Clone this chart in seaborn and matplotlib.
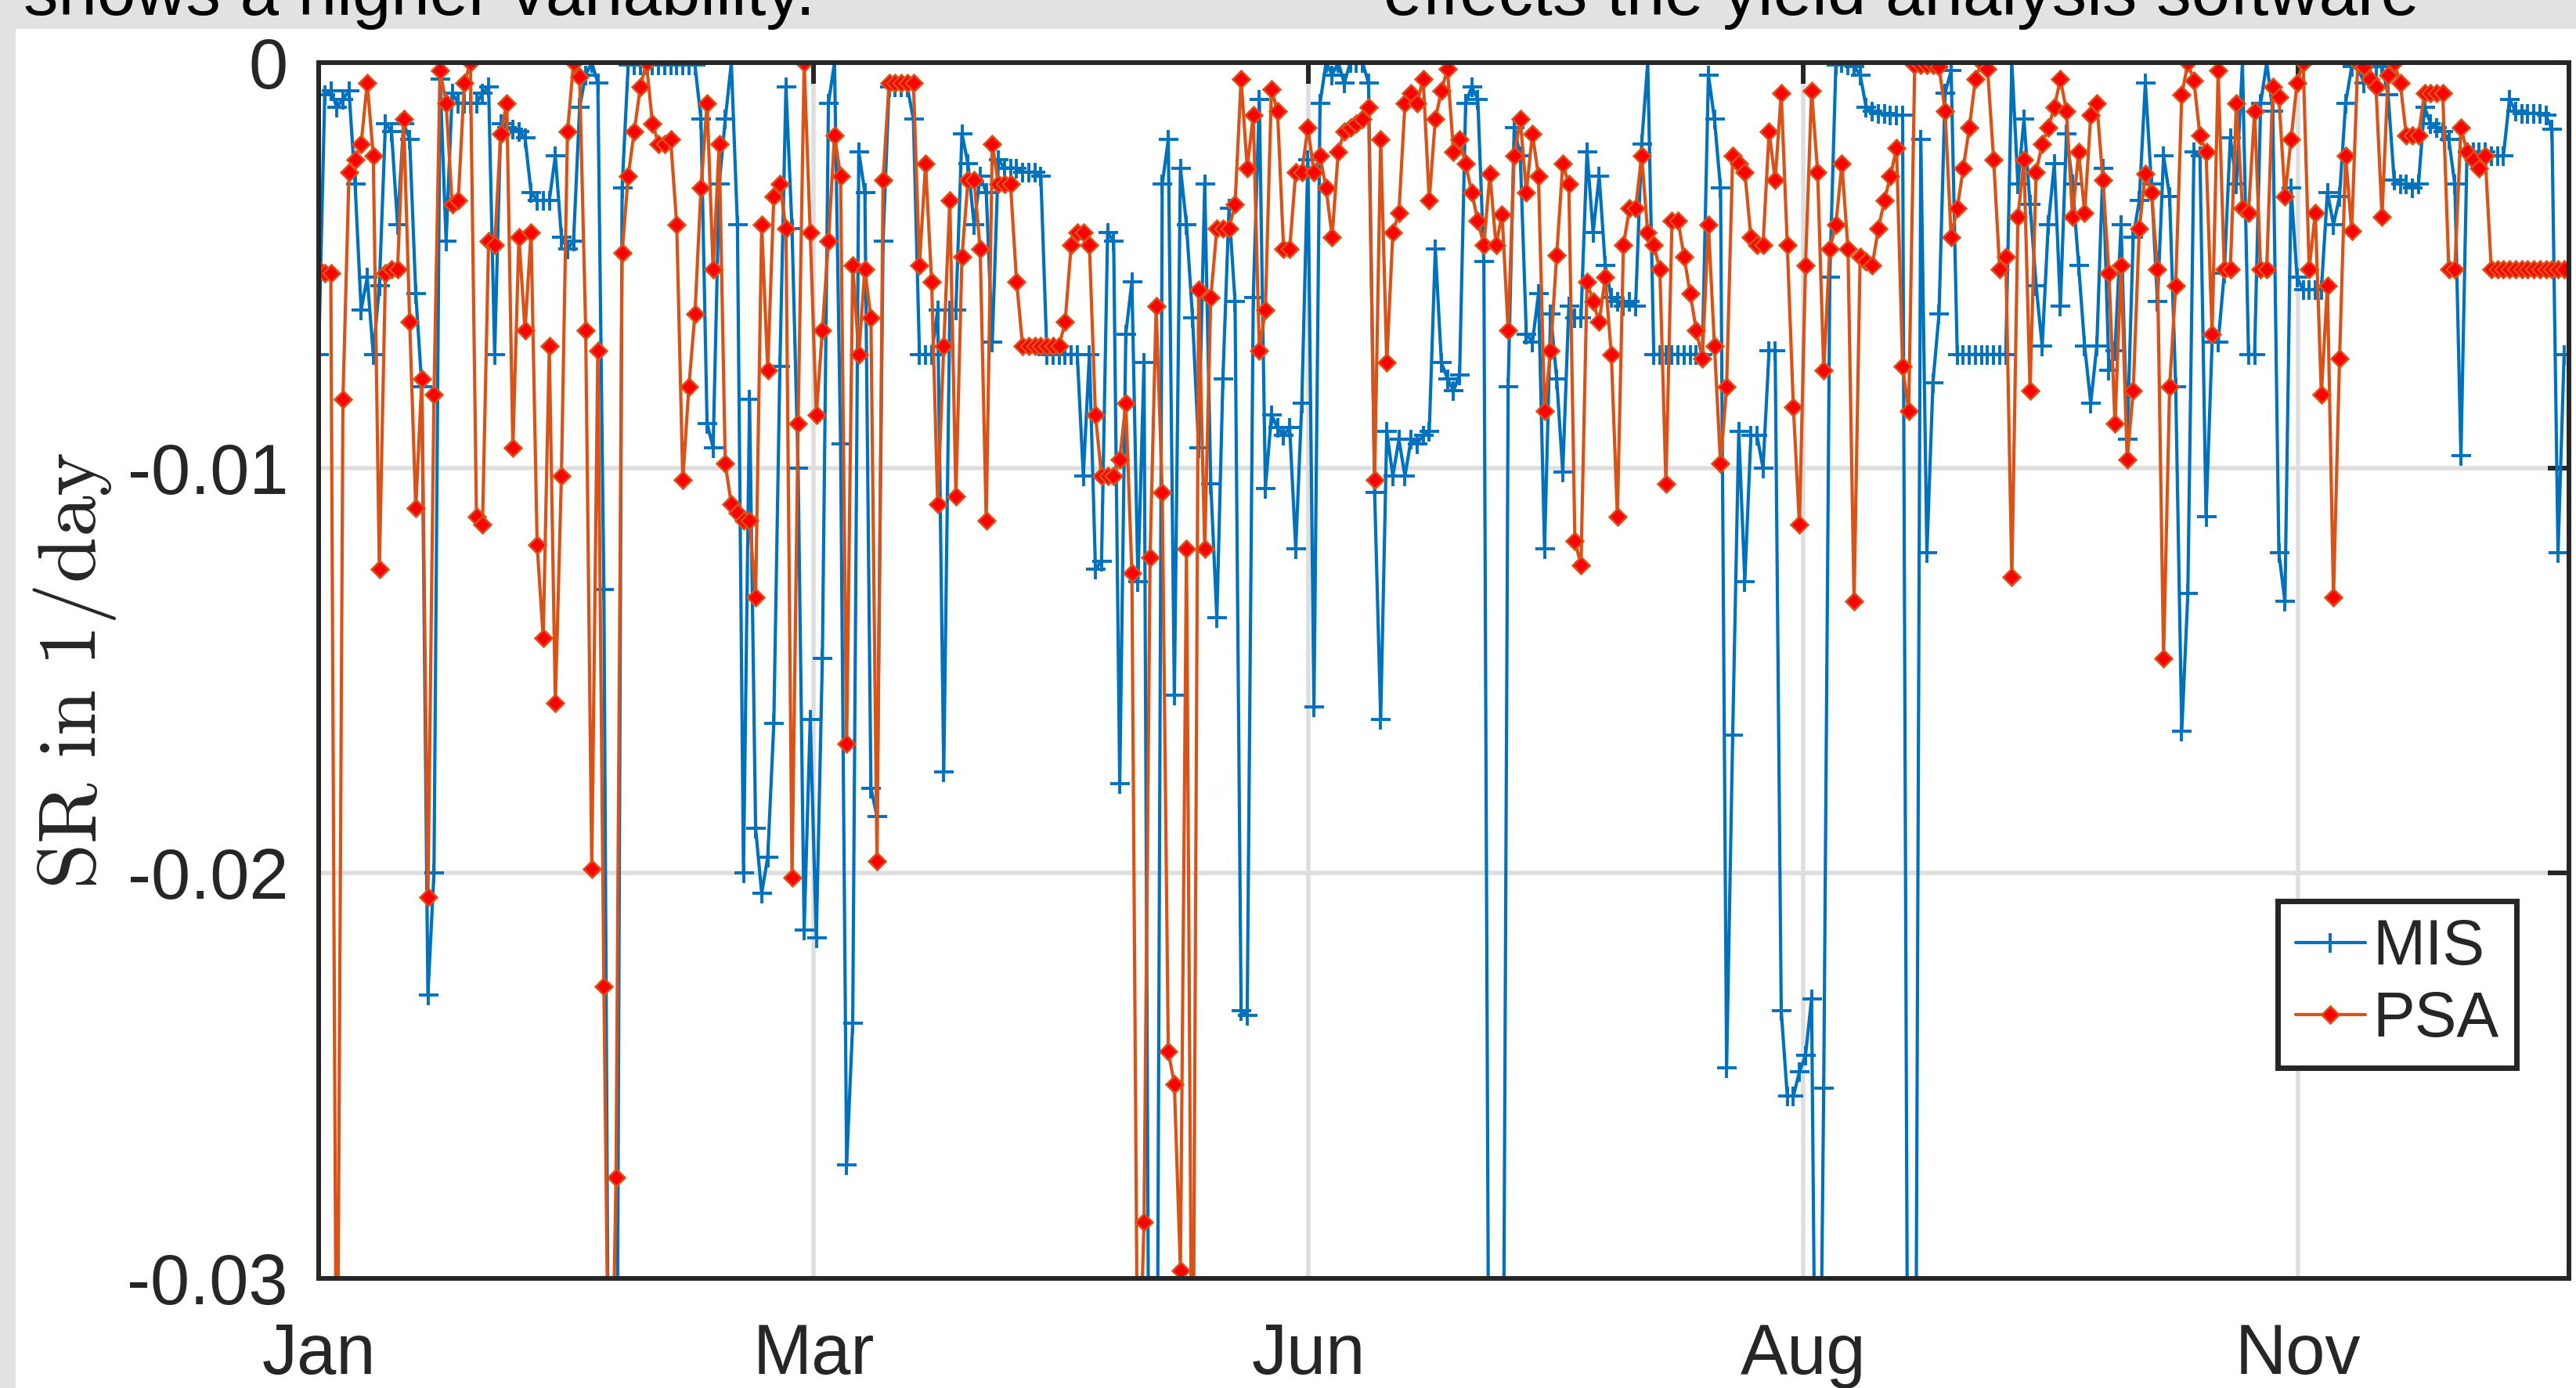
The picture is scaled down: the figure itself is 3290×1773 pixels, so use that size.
import numpy as np
import pandas as pd
import matplotlib
matplotlib.use("Agg")
import matplotlib.pyplot as plt
from matplotlib.patches import Rectangle
import seaborn as sns

# ---------------- data (in 1e-3 per day) ----------------
month_labels = ["Jan", "Mar", "Jun", "Aug", "Nov"]
month_tick_pos = [0, 81.55, 163.1, 244.65, 326.2]
x_end = 370.8

y_ticks = [-0.03, -0.02, -0.01, 0.0]
y_tick_labels = ["-0.03", "-0.02", "-0.01", "0"]

mis_milli = [
    -7.2, -0.8, -0.7, -1.1, -0.9, -0.7, -3.0, -6.1, -5.3, -7.2,
    -5.5, -1.5, -1.7, -4.0, -1.5, -1.9, -5.7, -8.0, -23.0, -20.0,
    -0.4, -4.4, -0.75, -1.0, -1.0, -1.0, -1.0, -0.75, -0.6, -7.2,
    -1.5, -1.6, -1.65, -1.7, -1.85, -3.2, -3.4, -3.4, -3.4, -2.3,
    -4.3, -4.6, -4.4, -1.1, -0.3, 0.0, -0.5, -13.0, -40, -40,
    -3.1, -0.05, -0.05, -0.05, -0.05, -0.05, -0.05, -0.05, -0.05, -0.05,
    -0.05, -0.05, -0.05, -1.4, -8.9, -9.5, -3.0, -1.4, 0.0, -4.0,
    -20.0, -8.3, -18.9, -20.5, -19.6, -16.3, -7.5, -0.6, -4.1, -10.0,
    -21.4, -16.2, -21.6, -14.7, -1.0, 0.0, -9.4, -27.2, -23.7, -2.2,
    -3.2, -17.9, -18.6, -4.4, -0.6, -0.6, -0.6, -0.6, -1.4, -7.2,
    -7.2, -7.2, -6.1, -17.5, -6.1, -6.1, -1.75, -2.5, -4.0, -2.8,
    -3.2, -6.9, -2.4, -2.6, -2.6, -2.6, -2.7, -2.7, -2.7, -2.8,
    -7.2, -7.2, -7.2, -7.2, -7.2, -7.2, -10.2, -7.2, -12.5, -12.3,
    -4.2, -4.4, -17.8, -6.7, -5.4, -12.8, -7.4, -40, -40, -3.0,
    -1.9, -15.6, -2.6, -4.0, -6.3, -9.5, -3.0, -10.4, -13.7, -7.8,
    -3.6, -5.9, -23.4, -23.5, -5.8, -0.9, -10.5, -8.7, -9.0, -9.2,
    -9.0, -12.0, -8.4, -2.4, -15.9, -1.0, 0.0, -0.3, 0.0, -0.5,
    0.0, 0.0, 0.0, -0.5, -10.6, -16.2, -9.1, -10.2, -9.3, -10.2,
    -9.3, -9.4, -9.2, -9.1, -4.6, -7.4, -7.8, -8.1, -7.7, -1.0,
    -0.6, -0.9, -4.9, -40, -45, -40, -8.0, -1.6, -2.3, -6.7,
    -6.9, -5.7, -12.0, -6.2, -7.8, -10.1, -6.0, -6.3, -6.3, -2.2,
    -4.2, -2.8, -5.0, -5.8, -5.9, -6.0, -5.9, -6.0, -2.0, 0.0,
    -7.2, -7.2, -7.2, -7.2, -7.2, -7.2, -7.2, -7.2, -7.2, -0.3,
    -1.4, -3.1, -24.8, -16.6, -9.1, -12.8, -9.2, -9.2, -10.0, -7.1,
    -7.1, -23.4, -25.5, -25.5, -24.9, -24.5, -23.1, -40, -25.3, -5.3,
    -0.05, 0.0, -0.05, -0.1, -0.3, -1.1, -1.2, -1.25, -1.25, -1.3,
    -1.3, -1.3, -40, -40, -1.9, -12.1, -7.9, -6.2, -0.75, -0.2,
    -7.2, -7.2, -7.2, -7.2, -7.2, -7.2, -7.2, -7.2, -7.2, 0.0,
    -3.0, -1.4, -3.5, -5.5, -7.0, -4.0, -2.5, -6.0, -1.75, -3.0,
    -5.0, -7.0, -8.4, -7.0, -2.6, -7.6, -7.1, -4.0, -9.3, -4.3,
    -3.4, -0.5, -3.0, -5.9, -2.3, -3.3, -8.0, -16.5, -13.1, -2.2,
    -2.3, -11.2, -6.9, -6.9, -5.2, -1.85, -3.0, 0.0, -7.2, -7.2,
    -1.0, 0.0, -1.2, -12.1, -13.3, -3.1, -5.3, -5.6, -5.6, -5.6,
    -5.6, -3.2, -4.0, -3.3, -1.0, -0.1, -0.1, -0.5, -0.1, -0.1,
    -0.1, -0.8, -2.9, -3.0, -3.0, -3.1, -3.0, -1.1, -1.5, -1.6,
    -1.7, -1.9, -3.0, -9.7, -2.2, -2.2, -2.2, -2.2, -2.3, -2.3,
    -2.3, -0.9, -1.2, -1.25, -1.25, -1.25, -1.25, -1.3, -1.65, -12.1,
    -7.2,
]

psa_milli = [
    -5.1, -5.2, -5.2, -36, -8.3, -2.7, -2.4, -2.0, -0.5, -2.3,
    -12.5, -5.2, -5.1, -5.1, -1.4, -6.4, -11.0, -7.8, -20.6, -8.2,
    -0.2, -1.0, -3.5, -3.4, -0.5, 0.0, -11.2, -11.4, -4.4, -4.5,
    -1.75, -1.0, -9.5, -4.3, -6.6, -4.2, -11.9, -14.2, -7.0, -15.8,
    -10.2, -1.7, 0.0, -0.35, -6.6, -19.9, -7.1, -22.8, -36, -27.5,
    -4.7, -2.8, -1.7, -0.6, 0.0, -1.5, -2.0, -2.0, -1.9, -4.0,
    -10.3, -8.0, -6.2, -3.1, -1.0, -5.1, -2.0, -9.9, -10.9, -11.1,
    -11.3, -11.3, -13.2, -4.0, -7.6, -3.3, -3.0, -4.1, -20.1, -8.9,
    0.0, -4.2, -8.7, -6.6, -4.4, -1.8, -2.8, -16.8, -5.0, -7.2,
    -5.1, -6.3, -19.7, -2.9, -0.5, -0.5, -0.5, -0.5, -0.5, -5.0,
    -2.5, -5.4, -10.9, -7.0, -3.4, -10.7, -4.8, -2.9, -2.9, -4.6,
    -11.3, -2.0, -3.0, -3.0, -3.0, -5.4, -7.0, -7.0, -7.0, -7.0,
    -7.0, -7.0, -7.0, -6.4, -4.5, -4.2, -4.2, -4.5, -8.7, -10.2,
    -10.2, -10.2, -9.8, -8.4, -12.6, -34, -28.6, -12.2, -6.0, -10.6,
    -24.4, -25.2, -29.8, -12.0, -36, -5.6, -12.0, -5.8, -4.1, -4.1,
    -4.1, -3.5, -0.4, -2.6, -1.3, -7.1, -6.1, -0.65, -1.2, -4.6,
    -4.6, -2.7, -2.7, -1.6, -2.7, -2.3, -3.1, -4.3, -2.2, -1.7,
    -1.6, -1.5, -1.4, -1.1, -10.3, -1.9, -7.4, -4.2, -3.7, -1.0,
    -0.75, -1.0, -0.4, -3.4, -1.4, -0.7, -0.15, -2.2, -1.9, -2.5,
    -3.2, -3.9, -4.5, -2.75, -4.5, -3.75, -6.6, -2.3, -1.4, -3.2,
    -1.75, -2.8, -8.6, -7.1, -4.75, -2.5, -3.0, -11.8, -12.4, -5.4,
    -5.9, -6.4, -5.3, -7.2, -11.2, -4.5, -3.6, -3.6, -2.3, -4.2,
    -4.5, -5.1, -10.4, -3.9, -3.9, -4.8, -5.7, -6.6, -7.3, -4.0,
    -7.0, -9.9, -8.0, -2.3, -2.5, -2.7, -4.3, -4.5, -4.5, -1.7,
    -2.9, -0.75, -4.5, -8.5, -11.4, -5.0, -0.7, -2.7, -7.6, -4.6,
    -4.0, -2.5, -4.6, -13.3, -4.8, -4.9, -5.0, -4.1, -3.4, -2.8,
    -2.1, -7.5, -8.6, -0.05, -0.05, -0.05, -0.05, -0.1, -1.2, -4.3,
    -3.6, -2.6, -1.6, -0.4, 0.0, -0.15, -2.4, -5.1, -4.8, -12.7,
    -3.8, -2.4, -8.1, -2.7, -2.0, -1.6, -1.1, -0.4, -1.2, -3.8,
    -2.2, -3.7, -1.3, -1.0, -2.9, -5.2, -8.9, -5.0, -9.8, -8.1,
    -4.1, -2.75, -3.2, -5.1, -14.7, -8.0, -5.5, -0.8, 0.0, -0.45,
    -1.8, -2.2, -6.7, -0.2, -5.1, -5.1, -1.0, -3.6, -3.7, -1.2,
    -5.1, -5.1, -0.6, -0.85, -3.3, -1.9, -0.5, 0.0, -5.1, -3.7,
    -8.2, -5.5, -13.2, -7.3, -2.3, -4.15, 0.0, -0.1, -0.4, -0.6,
    -3.8, -0.3, 0.0, -0.5, -1.8, -1.8, -1.8, -0.75, -0.75, -0.75,
    -0.75, -5.1, -5.1, -1.6, -2.2, -2.4, -2.6, -2.3, -5.1, -5.1,
    -5.1, -5.1, -5.1, -5.1, -5.1, -5.1, -5.1, -5.1, -5.1, -5.1,
    -5.1,
]

header_left = "shows a higher variability."
header_right = "effects the yield analysis software"

assert len(mis_milli) == len(psa_milli), (len(mis_milli), len(psa_milli))

# ---------------- figure ----------------
sns.set_style("white")
plt.rcParams["font.family"] = ["Liberation Sans", "DejaVu Sans"]
plt.rcParams["mathtext.fontset"] = "cm"

W, H = 3290, 1773
fig = plt.figure(figsize=(W / 100, H / 100), dpi=100)
fig.patch.set_facecolor("white")

gray = "#e2e2e2"
fig.patches.append(Rectangle((0, 1 - 37 / H), 1, 37 / H, transform=fig.transFigure,
                             facecolor=gray, edgecolor="none", zorder=0))
fig.patches.append(Rectangle((0, 0), 20 / W, 1, transform=fig.transFigure,
                             facecolor=gray, edgecolor="none", zorder=0))

fig.text(30 / W, 1 - 19 / H, header_left, fontsize=64, ha="left", va="baseline", color="black")
fig.text(1767 / W, 1 - 19 / H, header_right, fontsize=64, ha="left", va="baseline", color="black")

ax = fig.add_axes([407 / W, 140 / H, 2874 / W, 1553 / H])
ax.set_facecolor("white")

day = np.arange(len(mis_milli))
df = pd.DataFrame({
    "day": day,
    "MIS": np.asarray(mis_milli) / 1000.0,
    "PSA": np.asarray(psa_milli) / 1000.0,
})

blue = "#0072BD"
orange = "#D95319"

sns.lineplot(data=df, x="day", y="MIS", ax=ax, estimator=None, color=blue, lw=3.0,
             marker="+", markersize=18, markeredgewidth=2.8, markeredgecolor=blue,
             label="MIS")
sns.lineplot(data=df, x="day", y="PSA", ax=ax, estimator=None, color=orange, lw=3.0,
             marker="D", markersize=11.5, markerfacecolor="#FF0000", markeredgecolor=orange,
             markeredgewidth=1.8, label="PSA")

ax.set_xlim(0, x_end)
ax.set_ylim(-0.03, 0)
ax.set_xticks(month_tick_pos, month_labels)
ax.set_yticks(y_ticks, y_tick_labels)
ax.set_xlabel("")

ax.grid(True, color="#dedede", lw=4)
ax.set_axisbelow("line")

for s in ax.spines.values():
    s.set_visible(True)
    s.set_linewidth(4.3)
    s.set_color("#262626")
    s.set_zorder(5)

ax.tick_params(axis="both", which="major", direction="in", length=19.5, width=4.3,
               color="#262626", top=True, right=True, labelsize=65, labelcolor="#262626")
ax.tick_params(axis="x", pad=40)
ax.tick_params(axis="y", pad=28)

ax.set_ylabel(r"$\mathrm{SR\ in\ 1/day}$", fontsize=76, color="#262626")
ax.yaxis.set_label_coords(-0.089, 0.5)

leg = ax.legend(loc="lower right", bbox_to_anchor=(0.9767, 0.1732), fontsize=58,
                frameon=True, fancybox=False, edgecolor="#262626", framealpha=1,
                borderpad=0.28, labelspacing=0.2, handlelength=1.1, handletextpad=0.12,
                borderaxespad=0)
leg.get_frame().set_linewidth(5)
leg.set_zorder(10)

fig.savefig("out.png", dpi=100)
